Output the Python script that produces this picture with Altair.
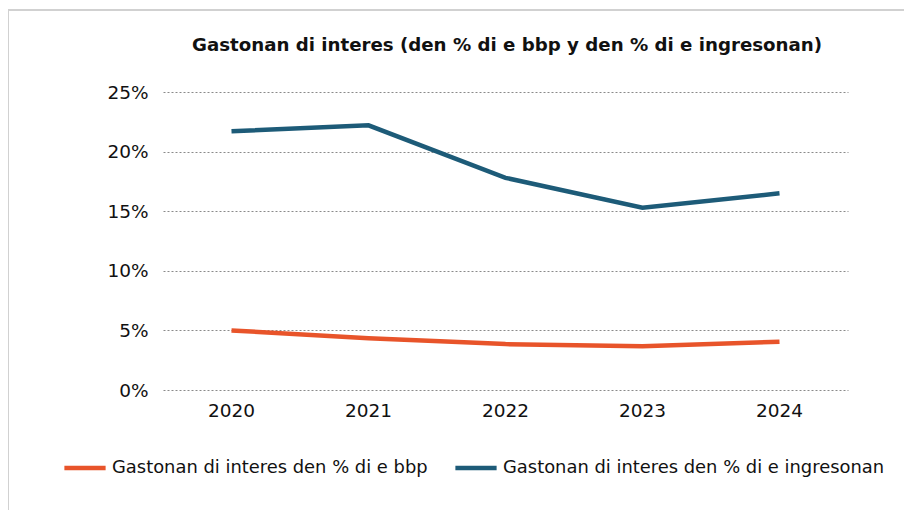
import altair as alt
import pandas as pd

years = ["2020", "2021", "2022", "2023", "2024"]
bbp = [5.0, 4.35, 3.85, 3.67, 4.05]
ingresonan = [21.7, 22.2, 17.8, 15.3, 16.5]
series_names = ["Gastonan di interes den % di e bbp",
                "Gastonan di interes den % di e ingresonan"]
colors = ["#E8542A", "#1D5B78"]
y_ticks = [0, 5, 10, 15, 20, 25]
title_text = ["Gastonan di interes (den % di e bbp y den % di e ingresonan)"]

rows = []
for i, y in enumerate(years):
    rows.append({"year": y, "value": bbp[i] / 100, "serie": series_names[0]})
    rows.append({"year": y, "value": ingresonan[i] / 100, "serie": series_names[1]})
df = pd.DataFrame(rows)

FONT = "DejaVu Sans"
FS = 18.5

lines = alt.Chart(df).mark_line(strokeWidth=4.5, strokeCap="butt", strokeJoin="miter").encode(
    x=alt.X("year:N", sort=years, scale=alt.Scale(type="band", paddingInner=0, paddingOuter=0),
            axis=alt.Axis(title=None, labelAngle=0, domain=False, ticks=False, grid=False,
                          labelFont=FONT, labelFontSize=FS, labelColor="#111111", labelPadding=11)),
    y=alt.Y("value:Q", scale=alt.Scale(domain=[0, 0.25], nice=False),
            axis=alt.Axis(title=None, values=[v / 100 for v in y_ticks], format=".0%", domain=False, ticks=False,
                          grid=True, gridDash=[2, 2], gridColor="#8a8a8a", gridWidth=1,
                          labelFont=FONT, labelFontSize=FS, labelColor="#111111", labelPadding=15)),
    color=alt.Color("serie:N", sort=series_names,
                    scale=alt.Scale(domain=series_names, range=colors),
                    legend=alt.Legend(title=None, orient="none", legendX=-101, legendY=353,
                                      direction="horizontal", symbolType="stroke", symbolSize=1700,
                                      symbolStrokeWidth=4.5, labelFont=FONT, labelFontSize=17.9,
                                      labelColor="#111111", columnPadding=18, symbolOffset=0,
                                      labelLimit=600)),
)

frame_top = alt.Chart(df).mark_rule(color="#d0d0d0", strokeWidth=1.5).encode(
    x=alt.value(-156), x2=alt.value(760), y=alt.value(-82))
frame_left = alt.Chart(df).mark_rule(color="#d0d0d0", strokeWidth=1.5).encode(
    x=alt.value(-155), y=alt.value(-82), y2=alt.value(440))

title = alt.Chart(pd.DataFrame({"t": title_text})).mark_text(
    font=FONT, fontSize=18.2, fontWeight="bold", color="#111111", align="center", baseline="middle"
).encode(text="t:N", x=alt.value(344), y=alt.value(-46))

chart = alt.layer(frame_top, frame_left, title, lines).properties(
    width=685, height=298,
    autosize="none",
    padding={"left": 155, "top": 84, "right": 56, "bottom": 120},
).configure_view(stroke=None)

chart.save("out.html", embed_options={"renderer": "svg", "actions": False})
